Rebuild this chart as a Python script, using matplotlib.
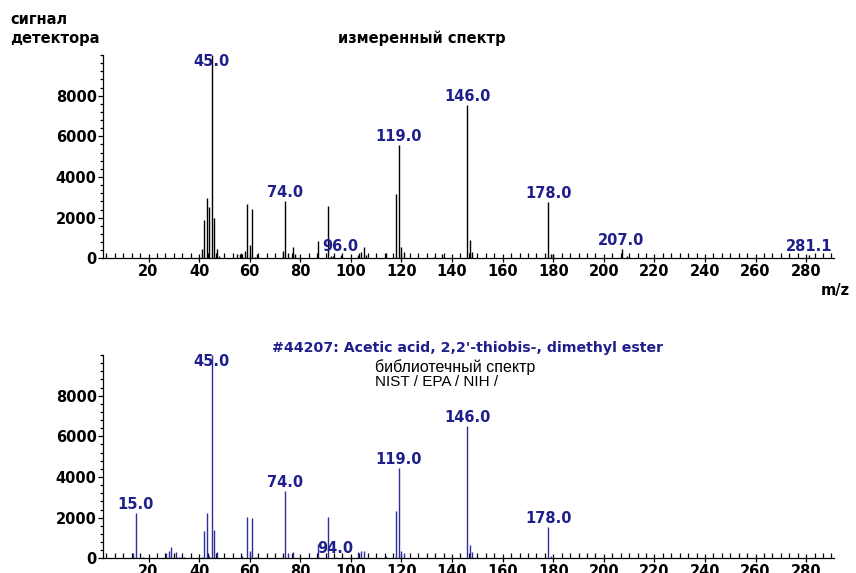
import numpy as np
import matplotlib.pyplot as plt
from matplotlib.ticker import MultipleLocator, FixedLocator

# measured spectrum (m/z, abundance)
meas_mz = [41, 42, 43, 44, 45, 46, 47, 48, 55, 56, 57, 58, 59, 60, 61, 62, 63,
           73, 74, 75, 77, 78, 87, 91, 92, 93, 96, 103, 104, 105, 106, 114,
           118, 119, 120, 121, 133, 136, 146, 147, 148, 178, 179, 180, 207, 209, 281.1]
meas_int = [450, 1860, 2980, 2520, 9990, 2000, 450, 110, 200, 200, 200, 360, 2650, 660, 2420, 80, 200,
            360, 2830, 250, 540, 200, 870, 2550, 115, 115, 170, 170, 330, 540, 160, 250,
            3180, 5550, 540, 330, 80, 200, 7520, 905, 330, 2765, 200, 200, 445, 110, 170]
meas_labels = {45: "45.0", 74: "74.0", 96: "96.0", 119: "119.0", 146: "146.0",
               178: "178.0", 207: "207.0", 281.1: "281.1"}

# library spectrum (NIST)
lib_mz = [14, 15, 18, 27, 28, 29, 31, 32, 33, 34, 41, 42, 43, 44, 45, 46, 47,
          57, 59, 60, 61, 62, 63, 73, 74, 75, 77, 87, 91, 94, 103, 104, 105,
          114, 118, 119, 120, 121, 146, 147, 148, 178, 179, 180]
lib_int = [250, 2230, 80, 250, 380, 580, 330, 80, 80, 80, 80, 1320, 2230, 130, 9990, 1400, 330,
           130, 2030, 380, 2000, 80, 80, 80, 3300, 250, 330, 700, 2030, 40, 330, 380, 380,
           130, 2340, 4420, 380, 250, 6520, 660, 330, 1535, 130, 80]
lib_labels = {15: "15.0", 45: "45.0", 74: "74.0", 94: "94.0", 119: "119.0",
              146: "146.0", 178: "178.0"}

W, H = 856, 573
label_col = "#1f1f8c"
lib_col = "#2e2e9e"

fig = plt.figure(figsize=(W / 100, H / 100), dpi=100)


def px(x, y):
    return x / W, 1 - y / H


def setup(ax):
    ax.set_xlim(2, 291)
    ax.set_ylim(0, 10000)
    for s in ["top", "right"]:
        ax.spines[s].set_visible(False)
    ax.spines["left"].set_linewidth(0.9)
    ax.spines["bottom"].set_linewidth(0.9)
    ax.xaxis.set_major_locator(FixedLocator(np.arange(20, 290, 20)))
    ax.xaxis.set_minor_locator(FixedLocator(np.arange(20 / 6, 291, 20 / 6)))
    ax.yaxis.set_major_locator(FixedLocator([0, 2000, 4000, 6000, 8000]))
    ax.yaxis.set_minor_locator(MultipleLocator(400))
    ax.tick_params(axis="x", which="major", direction="inout", length=6, width=0.9,
                   labelsize=10.5, pad=1)
    ax.tick_params(axis="x", which="minor", direction="in", length=3.5, width=0.9)
    ax.tick_params(axis="y", which="major", direction="out", length=3.5, width=0.9,
                   labelsize=10.5, pad=1)
    ax.tick_params(axis="y", which="minor", direction="out", length=2.5, width=0.9)
    for lab in ax.get_xticklabels() + ax.get_yticklabels():
        lab.set_fontweight("bold")
        lab.set_family("DejaVu Sans")


def draw(ax, mz, inten, labels, col):
    ax.vlines(mz, 0, inten, colors=col, linewidth=1.0)
    for m, txt in labels.items():
        h = inten[mz.index(m)]
        ax.text(m, min(h, 9250) + 60, txt, ha="center", va="bottom",
                color=label_col, fontsize=10.5, fontweight="bold", family="DejaVu Sans")


ax1 = fig.add_axes([103 / W, 1 - 258.3 / H, (834 - 103) / W, (258.3 - 55) / H])
setup(ax1)
draw(ax1, meas_mz, meas_int, meas_labels, "black")

ax2 = fig.add_axes([103 / W, 1 - 558.3 / H, (834 - 103) / W, (558.3 - 355) / H])
setup(ax2)
draw(ax2, lib_mz, lib_int, lib_labels, lib_col)

fig.text(*px(10, 19), "сигнал", ha="left", va="center", fontsize=10.5, fontweight="bold")
fig.text(*px(10, 38), "детектора", ha="left", va="center", fontsize=10.5, fontweight="bold")
fig.text(*px(421.5, 38), "измеренный спектр", ha="center", va="center",
         fontsize=10.5, fontweight="bold")
fig.text(*px(835, 290), "m/z", ha="center", va="center", fontsize=10.5, fontweight="bold")

fig.text(*px(468, 348.3), "#44207: Acetic acid, 2,2'-thiobis-, dimethyl ester",
         ha="center", va="center", fontsize=10.2, fontweight="bold",
         family="DejaVu Sans", color=label_col)
fig.text(*px(375, 367), "библиотечный спектр", ha="left", va="center",
         fontsize=11.5, family="Liberation Sans")
fig.text(*px(375, 382.5), "NIST / EPA / NIH /", ha="left", va="center",
         fontsize=11, family="Liberation Sans")

fig.savefig("out.png", dpi=100)
